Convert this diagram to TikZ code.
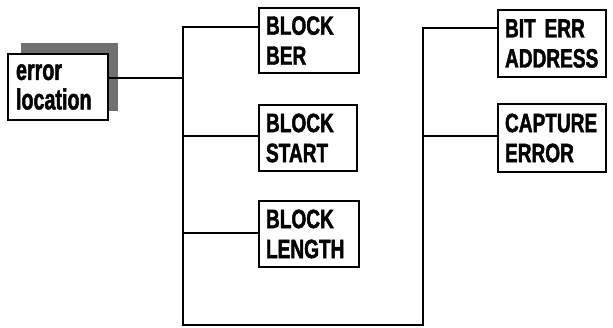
\documentclass[tikz,border=0pt]{standalone}
\usepackage{fontspec}
\setmainfont{Liberation Sans}[FakeStretch=0.72, FakeBold=1.6]
\newfontfamily\errfont{Liberation Sans}[FakeStretch=0.68, FakeBold=1.6]
\begin{document}
\begin{tikzpicture}[x=1pt,y=-1pt,
  blk/.style={draw, line width=2.8pt, inner xsep=7pt, inner ysep=0pt, align=left,
    font=\bfseries\fontsize{26.5}{30}\selectfont},
  wire/.style={line width=2.6pt}]
\useasboundingbox (0,0) rectangle (613,328);
% shadow
\fill[black!56] (21,43) rectangle (118,111);
\node[blk, fill=white, minimum width=100pt, minimum height=66pt, text width=84pt, inner xsep=8pt,
  font=\errfont\bfseries\fontsize{29}{29.5}\selectfont] (err) at (58,87) {error\\location};
\node[blk, minimum width=100pt, minimum height=65pt, text width=86pt] (ber) at (309,40.5) {BLOCK\\BER};
\node[blk, minimum width=98pt, minimum height=66pt, text width=84pt] (start) at (308,138) {BLOCK\\START};
\node[blk, minimum width=100pt, minimum height=66pt, text width=86pt] (len) at (309,234) {BLOCK\\LENGTH};
\node[blk, minimum width=108pt, minimum height=67pt, text width=94pt] (bit) at (552,43.5) {BIT ERR\\ADDRESS};
\node[blk, minimum width=108pt, minimum height=68pt, text width=94pt] (cap) at (552,138) {CAPTURE\\ERROR};
% junctions
\coordinate (j0) at (183,78);
\coordinate (jt) at (183,27);
\coordinate (j2) at (183,136);
\coordinate (j3) at (183,233);
\coordinate (jb) at (183,325);
\coordinate (kb) at (423,325);
\coordinate (kt) at (423,28);
\coordinate (k2) at (423,136);
\draw[wire] (err.east |- j0) -- (j0);
\draw[wire] (ber.west |- jt) -- (jt) -- (jb) -- (kb) -- (kt) -- (bit.west |- kt);
\draw[wire] (j2) -- (start.west |- j2);
\draw[wire] (j3) -- (len.west |- j3);
\draw[wire] (k2) -- (cap.west |- k2);
\end{tikzpicture}
\end{document}
